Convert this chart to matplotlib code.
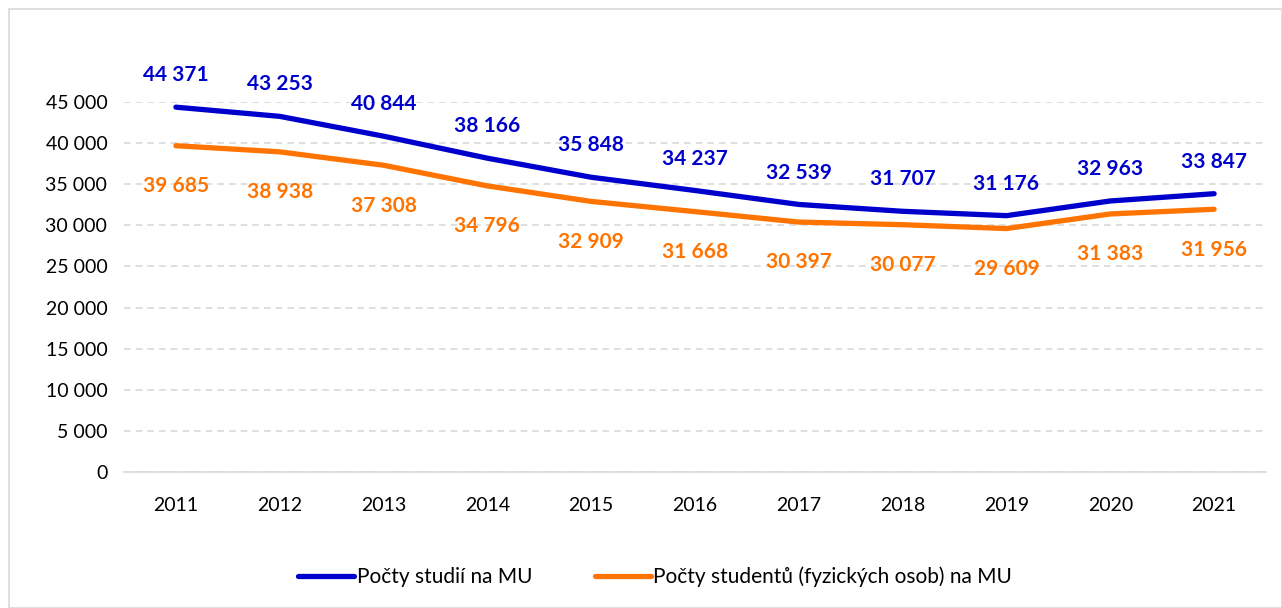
import matplotlib.pyplot as plt
from matplotlib.patches import Rectangle

years = ["2011", "2012", "2013", "2014", "2015", "2016", "2017", "2018", "2019", "2020", "2021"]
studia = [44371, 43253, 40844, 38166, 35848, 34237, 32539, 31707, 31176, 32963, 33847]
studenti = [39685, 38938, 37308, 34796, 32909, 31668, 30397, 30077, 29609, 31383, 31956]
yticks = list(range(0, 45001, 5000))

BLUE = "#0000CC"
ORANGE = "#FF7300"


def fmt(v):
    return f"{v:,}".replace(",", " ")


plt.rcParams['font.family'] = ['Lato', 'DejaVu Sans']

fig = plt.figure(figsize=(12.82, 6.08), dpi=100)
fig.patches.append(Rectangle((9 / 1282, 0), 1 - 9 / 1282, 1 - 9 / 608, transform=fig.transFigure,
                             fill=False, edgecolor="#D9D9D9", linewidth=1.2))
ax = fig.add_axes([124 / 1282, 136 / 608, 1142 / 1282, 370 / 608])

x = range(len(years))
ax.plot(x, studia, color=BLUE, lw=3.8, solid_capstyle="round", label="Počty studií na MU")
ax.plot(x, studenti, color=ORANGE, lw=3.8, solid_capstyle="round",
        label="Počty studentů (fyzických osob) na MU")

for i, v in enumerate(studia):
    ax.annotate(fmt(v), (i, v), xytext=(0, 23), textcoords="offset points", ha="center", va="center",
                color=BLUE, fontsize=15, fontweight="bold", annotation_clip=False)
for i, v in enumerate(studenti):
    ax.annotate(fmt(v), (i, v), xytext=(0, -29), textcoords="offset points", ha="center", va="center",
                color=ORANGE, fontsize=15, fontweight="bold", annotation_clip=False)

ax.set_xlim(-0.5, len(years) - 0.5)
ax.set_ylim(0, 45000)
ax.set_xticks(list(x))
ax.set_xticklabels(years)
ax.set_yticks(yticks)
ax.set_yticklabels([fmt(t) for t in yticks])
ax.tick_params(axis="both", length=0, labelsize=14, colors="black")
ax.tick_params(axis="x", pad=18)
ax.tick_params(axis="y", pad=12)
ax.grid(axis="y", color="#D9D9D9", linestyle=(0, (4, 3)), linewidth=1.2)
ax.set_axisbelow(True)
for s in ["top", "right", "left"]:
    ax.spines[s].set_visible(False)
ax.spines["bottom"].set_color("#D9D9D9")
ax.spines["bottom"].set_linewidth(1.2)

fig.legend(loc="center", bbox_to_anchor=(655 / 1282, 1 - 577 / 608), ncol=2, frameon=False,
           fontsize=15, handlelength=2.7, handletextpad=0.1, columnspacing=3)

fig.savefig("out.png", dpi=100)
